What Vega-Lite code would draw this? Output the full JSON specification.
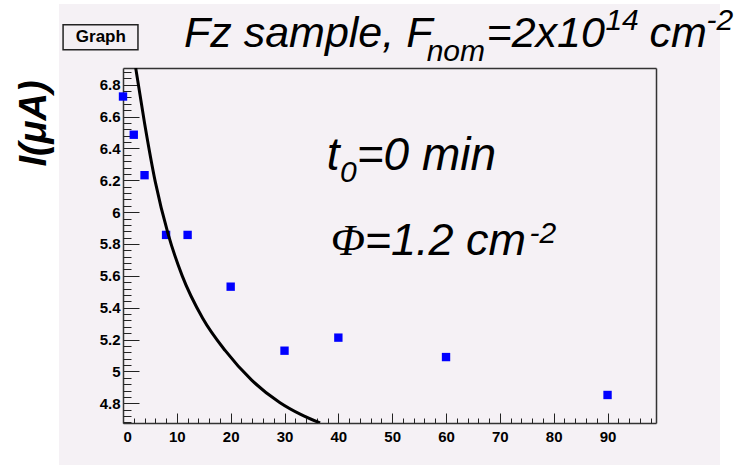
{
  "$schema": "https://vega.github.io/schema/vega-lite/v6.json",
  "width": 533,
  "height": 355,
  "autosize": {"type": "none"},
  "padding": {"left": 123, "top": 68, "right": 79, "bottom": 42},
  "background": "white",
  "config": {
    "view": {"fill": "#f5f1f5", "stroke": "#f5f1f5", "strokeWidth": 128},
    "font": "Liberation Sans",
    "axis": {"grid": false}
  },
  "datasets": {
    "measured": [
      {"t": 0, "I": 6.726},
      {"t": 2, "I": 6.486},
      {"t": 4, "I": 6.232},
      {"t": 8, "I": 5.857},
      {"t": 12, "I": 5.857},
      {"t": 20, "I": 5.532},
      {"t": 30, "I": 5.13},
      {"t": 40, "I": 5.212},
      {"t": 60, "I": 5.09},
      {"t": 90, "I": 4.852}
    ],
    "fit": [
      {"t": 2.36, "I": 6.905},
      {"t": 4, "I": 6.56},
      {"t": 6, "I": 6.19},
      {"t": 8.4, "I": 5.86},
      {"t": 11, "I": 5.6},
      {"t": 14.8, "I": 5.334},
      {"t": 19, "I": 5.13},
      {"t": 23.9, "I": 4.945},
      {"t": 29.1, "I": 4.805},
      {"t": 33, "I": 4.73},
      {"t": 36.6, "I": 4.676}
    ],
    "note": [{}]
  },
  "resolve": {"axis": {"x": "independent", "y": "independent"}},
  "layer": [
    {
      "data": {"name": "measured"},
      "mark": {"type": "point", "shape": "square", "filled": true, "size": 70, "color": "#0000ff", "opacity": 1, "strokeWidth": 0},
      "encoding": {
        "x": {
          "field": "t", "type": "quantitative",
          "scale": {"domain": [0, 99], "nice": false, "zero": false},
          "axis": {
            "orient": "bottom", "title": null,
            "values": [0, 10, 20, 30, 40, 50, 60, 70, 80, 90],
            "format": "d",
            "labelFont": "Liberation Sans", "labelFontSize": 15, "labelFontWeight": "bold", "labelColor": "black",
            "labelPadding": 16,
            "tickSize": -10, "tickColor": "#222", "tickWidth": 1,
            "domain": true, "domainColor": "#333", "domainWidth": 1.5
          }
        },
        "y": {
          "field": "I", "type": "quantitative",
          "scale": {"domain": [4.676, 6.905], "nice": false, "zero": false},
          "axis": {
            "orient": "left",
            "title": "I(μA)",
            "titleFont": "Liberation Sans", "titleFontSize": 38, "titleFontWeight": "bold", "titleFontStyle": "italic", "titleColor": "black",
            "titleAngle": -90, "titleX": -89, "titleY": 55, "titleAlign": "center", "titleBaseline": "middle",
            "values": [4.8, 5, 5.2, 5.4, 5.6, 5.8, 6, 6.2, 6.4, 6.6, 6.8],
            "format": "~g",
            "labelFont": "Liberation Sans", "labelFontSize": 15, "labelFontWeight": "bold", "labelColor": "black",
            "labelPadding": 19,
            "tickSize": -16, "tickColor": "#222", "tickWidth": 1,
            "domain": true, "domainColor": "#333", "domainWidth": 1.5
          }
        }
      }
    },
    {
      "data": {"name": "fit"},
      "mark": {"type": "line", "color": "black", "strokeWidth": 3, "clip": true, "interpolate": "monotone"},
      "encoding": {
        "x": {
          "field": "t", "type": "quantitative",
          "scale": {"domain": [0, 99], "nice": false, "zero": false},
          "axis": {
            "orient": "bottom", "title": null, "labels": false, "domain": false,
            "values": [2, 4, 6, 8, 12, 14, 16, 18, 22, 24, 26, 28, 32, 34, 36, 38, 42, 44, 46, 48, 52, 54, 56, 58, 62, 64, 66, 68, 72, 74, 76, 78, 82, 84, 86, 88, 92, 94, 96, 98],
            "tickSize": -5, "tickColor": "#222", "tickWidth": 1
          }
        },
        "y": {
          "field": "I", "type": "quantitative",
          "scale": {"domain": [4.676, 6.905], "nice": false, "zero": false},
          "axis": {
            "orient": "left", "title": null, "labels": false, "domain": false,
            "values": [4.68, 4.72, 4.76, 4.84, 4.88, 4.92, 4.96, 5.04, 5.08, 5.12, 5.16, 5.24, 5.28, 5.32, 5.36, 5.44, 5.48, 5.52, 5.56, 5.64, 5.68, 5.72, 5.76, 5.84, 5.88, 5.92, 5.96, 6.04, 6.08, 6.12, 6.16, 6.24, 6.28, 6.32, 6.36, 6.44, 6.48, 6.52, 6.56, 6.64, 6.68, 6.72, 6.76, 6.84, 6.88],
            "tickSize": -8, "tickColor": "#222", "tickWidth": 1
          }
        }
      }
    },
    {
      "data": {"name": "note"},
      "mark": {"type": "rect", "fill": "#f3eff3", "stroke": "#222", "strokeWidth": 1.5, "clip": false},
      "encoding": {
        "x": {"datum": -11.13, "type": "quantitative",
              "axis": {"orient": "top", "title": null, "labels": false, "ticks": false, "domain": true, "domainColor": "#333", "domainWidth": 1.5}},
        "x2": {"datum": 2.78},
        "y": {"datum": 7.177, "type": "quantitative",
              "axis": {"orient": "right", "title": null, "labels": false, "ticks": false, "domain": true, "domainColor": "#333", "domainWidth": 1.5}},
        "y2": {"datum": 7.02}
      }
    },
    {
      "data": {"name": "note"},
      "mark": {"type": "text", "text": "Graph", "align": "center", "baseline": "middle", "fontSize": 17, "fontWeight": "bold", "font": "Liberation Sans", "color": "black"},
      "encoding": {
        "x": {"datum": -4.12, "type": "quantitative", "axis": null},
        "y": {"datum": 7.099, "type": "quantitative", "axis": null}
      }
    },
    {
      "data": {"name": "note"},
      "mark": {"type": "text", "text": "Fz sample, F", "align": "left", "baseline": "alphabetic", "fontSize": 43, "fontStyle": "italic", "font": "Liberation Sans", "color": "black"},
      "encoding": {
        "x": {"datum": 11.32, "type": "quantitative", "axis": null},
        "y": {"datum": 7.039, "type": "quantitative", "axis": null}
      }
    },
    {
      "data": {"name": "note"},
      "mark": {"type": "text", "text": "nom", "align": "left", "baseline": "alphabetic", "fontSize": 30, "fontStyle": "italic", "font": "Liberation Sans", "color": "black"},
      "encoding": {
        "x": {"datum": 56.4, "type": "quantitative", "axis": null},
        "y": {"datum": 6.948, "type": "quantitative", "axis": null}
      }
    },
    {
      "data": {"name": "note"},
      "mark": {"type": "text", "text": "=2x10", "align": "left", "baseline": "alphabetic", "fontSize": 43, "fontStyle": "italic", "font": "Liberation Sans", "color": "black"},
      "encoding": {
        "x": {"datum": 67.53, "type": "quantitative", "axis": null},
        "y": {"datum": 7.039, "type": "quantitative", "axis": null}
      }
    },
    {
      "data": {"name": "note"},
      "mark": {"type": "text", "text": "14", "align": "left", "baseline": "alphabetic", "fontSize": 30, "fontStyle": "italic", "font": "Liberation Sans", "color": "black"},
      "encoding": {
        "x": {"datum": 89.6, "type": "quantitative", "axis": null},
        "y": {"datum": 7.146, "type": "quantitative", "axis": null}
      }
    },
    {
      "data": {"name": "note"},
      "mark": {"type": "text", "text": "cm", "align": "left", "baseline": "alphabetic", "fontSize": 43, "fontStyle": "italic", "font": "Liberation Sans", "color": "black"},
      "encoding": {
        "x": {"datum": 97.8, "type": "quantitative", "axis": null},
        "y": {"datum": 7.039, "type": "quantitative", "axis": null}
      }
    },
    {
      "data": {"name": "note"},
      "mark": {"type": "text", "text": "-2", "align": "left", "baseline": "alphabetic", "fontSize": 30, "fontStyle": "italic", "font": "Liberation Sans", "color": "black"},
      "encoding": {
        "x": {"datum": 108.4, "type": "quantitative", "axis": null},
        "y": {"datum": 7.146, "type": "quantitative", "axis": null}
      }
    },
    {
      "data": {"name": "note"},
      "mark": {"type": "text", "text": "t", "align": "left", "baseline": "alphabetic", "fontSize": 46, "fontStyle": "italic", "font": "Liberation Sans", "color": "black"},
      "encoding": {
        "x": {"datum": 37.85, "type": "quantitative", "axis": null},
        "y": {"datum": 6.266, "type": "quantitative", "axis": null}
      }
    },
    {
      "data": {"name": "note"},
      "mark": {"type": "text", "text": "0", "align": "left", "baseline": "alphabetic", "fontSize": 30, "fontStyle": "italic", "font": "Liberation Sans", "color": "black"},
      "encoding": {
        "x": {"datum": 40.3, "type": "quantitative", "axis": null},
        "y": {"datum": 6.19, "type": "quantitative", "axis": null}
      }
    },
    {
      "data": {"name": "note"},
      "mark": {"type": "text", "text": "=0 min", "align": "left", "baseline": "alphabetic", "fontSize": 46, "fontStyle": "italic", "font": "Liberation Sans", "color": "black"},
      "encoding": {
        "x": {"datum": 43.4, "type": "quantitative", "axis": null},
        "y": {"datum": 6.266, "type": "quantitative", "axis": null}
      }
    },
    {
      "data": {"name": "note"},
      "mark": {"type": "text", "text": "Φ", "align": "left", "baseline": "alphabetic", "fontSize": 45, "fontStyle": "italic", "font": "Liberation Serif", "color": "black"},
      "encoding": {
        "x": {"datum": 38.6, "type": "quantitative", "axis": null},
        "y": {"datum": 5.731, "type": "quantitative", "axis": null}
      }
    },
    {
      "data": {"name": "note"},
      "mark": {"type": "text", "text": "=1.2 cm", "align": "left", "baseline": "alphabetic", "fontSize": 45, "fontStyle": "italic", "font": "Liberation Sans", "color": "black"},
      "encoding": {
        "x": {"datum": 44.9, "type": "quantitative", "axis": null},
        "y": {"datum": 5.731, "type": "quantitative", "axis": null}
      }
    },
    {
      "data": {"name": "note"},
      "mark": {"type": "text", "text": "-2", "align": "left", "baseline": "alphabetic", "fontSize": 30, "fontStyle": "italic", "font": "Liberation Sans", "color": "black"},
      "encoding": {
        "x": {"datum": 75.5, "type": "quantitative", "axis": null},
        "y": {"datum": 5.807, "type": "quantitative", "axis": null}
      }
    }
  ]
}
